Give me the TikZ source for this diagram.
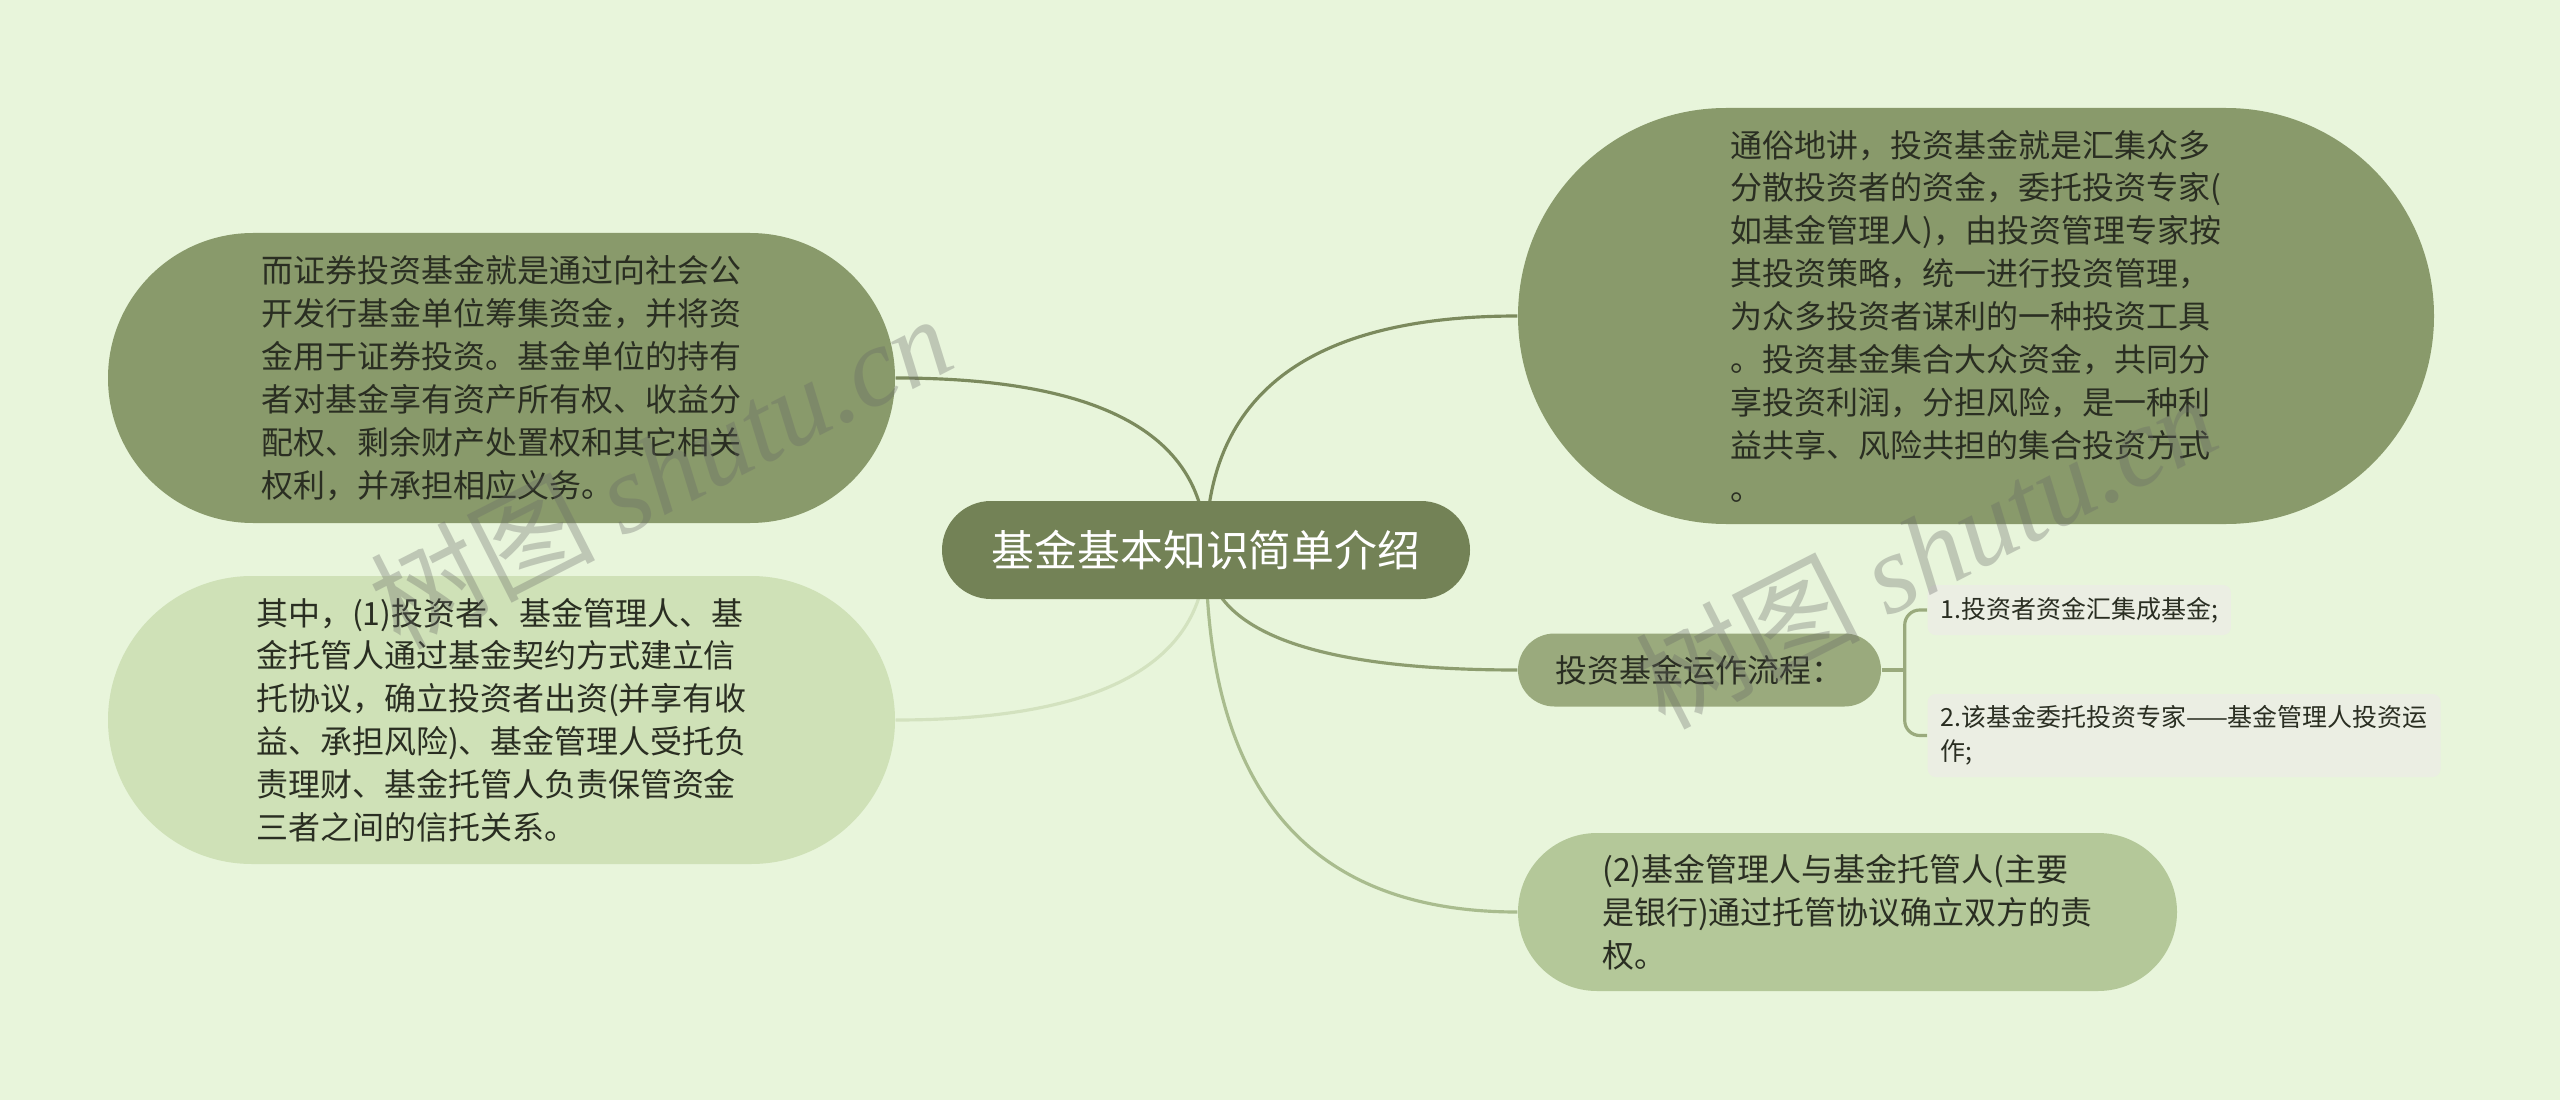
\documentclass[tikz,border=0pt]{standalone}
\usepackage{fontspec}
\setmainfont{Noto Sans CJK SC}
\newfontfamily\wmlatin{Liberation Serif}
\usetikzlibrary{shapes.misc,calc,backgrounds}

\definecolor{bgcol}{HTML}{E8F5DB}
\definecolor{rootcol}{HTML}{738256}
\definecolor{darkcol}{HTML}{899A6B}
\definecolor{midcol}{HTML}{9AAA7D}
\definecolor{lightcol}{HTML}{B4C899}
\definecolor{palecol}{HTML}{CFE1B7}
\definecolor{leafcol}{HTML}{EBEEE3}
\definecolor{inkcol}{HTML}{2A2E22}
\definecolor{linkdark}{HTML}{7B8A5D}
\definecolor{linkmid}{HTML}{8D9D6F}
\definecolor{linklight}{HTML}{A9BC8E}
\definecolor{linkpale}{HTML}{D3E2BF}

\tikzset{
    pill/.style={rounded rectangle, inner sep=0pt, align=left, text=inkcol},
    bodytext/.style={font=\fontsize{9.1pt}{12.2pt}\selectfont},
    leaf/.style={rounded corners=0.08cm, fill=leafcol, anchor=west, inner xsep=0.13cm, inner ysep=0pt,
        align=left, text=inkcol, font=\fontsize{7.1pt}{9.7pt}\selectfont},
    branch/.style={line width=0.9pt,
        to path={.. controls ($(\tikztostart)!.667!(\tikztostart |- \tikztotarget)$)
            and ($(\tikztotarget)!.667!(\tikztostart |- \tikztotarget)$) .. (\tikztotarget)}},
    watermark/.style={text=black!60, text opacity=0.32, rotate=27, font=\fontsize{32pt}{32pt}\selectfont}
}

\begin{document}
\begin{tikzpicture}
    \useasboundingbox (0,0) rectangle (25.6,-11);
    % centre
    \node[pill, fill=rootcol, text=white, minimum width=5.28cm, minimum height=0.98cm,
        font=\fontsize{12.2pt}{14pt}\selectfont] (root) at (12.06,-5.5) {基金基本知识简单介绍};
    % left side
    \node[pill, bodytext, fill=darkcol, minimum width=7.87cm, minimum height=2.9cm] (sec) at (5.015,-3.78)
        {而证券投资基金就是通过向社会公\\开发行基金单位筹集资金，并将资\\金用于证券投资。基金单位的持有\\者对基金享有资产所有权、收益分\\配权、剩余财产处置权和其它相关\\权利，并承担相应义务。};
    \node[pill, bodytext, fill=palecol, minimum width=7.87cm, minimum height=2.88cm] (trust) at (5.015,-7.2)
        {其中，(1)投资者、基金管理人、基\\金托管人通过基金契约方式建立信\\托协议，确立投资者出资(并享有收\\益、承担风险)、基金管理人受托负\\责理财、基金托管人负责保管资金\\三者之间的信托关系。};
    % right side
    \node[pill, bodytext, fill=darkcol, minimum width=9.16cm, minimum height=4.16cm] (plain) at (19.76,-3.16)
        {通俗地讲，投资基金就是汇集众多\\分散投资者的资金，委托投资专家(\\如基金管理人)，由投资管理专家按\\其投资策略，统一进行投资管理，\\为众多投资者谋利的一种投资工具\\。投资基金集合大众资金，共同分\\享投资利润，分担风险，是一种利\\益共享、风险共担的集合投资方式\\。};
    \node[pill, bodytext, fill=midcol, minimum width=3.63cm, minimum height=0.73cm] (flow) at (16.995,-6.7)
        {投资基金运作流程：};
    \node[pill, bodytext, fill=lightcol, minimum width=6.59cm, minimum height=1.58cm] (custody) at (18.475,-9.12)
        {(2)基金管理人与基金托管人(主要\\是银行)通过托管协议确立双方的责\\权。};
    \node[leaf, minimum height=0.5cm] (step1) at (19.27,-6.1) {1.投资者资金汇集成基金;};
    \node[leaf, minimum height=0.83cm] (step2) at (19.27,-7.355) {2.该基金委托投资专家——基金管理人投资运\\作;};

    \begin{scope}[on background layer]
        \fill[bgcol] (0,0) rectangle (25.6,-11);
        \draw[branch, linkdark] (root.center) to (sec.east);
        \draw[branch, linkpale] (root.center) to (trust.east);
        \draw[branch, linkdark] (root.center) to (plain.west);
        \draw[branch, linkmid] (root.center) to (flow.west);
        \draw[branch, linklight] (root.center) to (custody.west);
        \draw[line width=0.9pt, midcol] (flow.east) -- ++(0.23,0) coordinate (fork);
        \draw[line width=0.9pt, midcol, rounded corners=0.15cm] (step1.west) -| (fork) |- (step2.west);
    \end{scope}

    % watermark
    \node[watermark] (wm1) at (6.6,-4.7) {树图 {\wmlatin\itshape shutu.cn}};
    \node[watermark] (wm2) at (19.25,-5.5) {树图 {\wmlatin\itshape shutu.cn}};
\end{tikzpicture}
\end{document}
